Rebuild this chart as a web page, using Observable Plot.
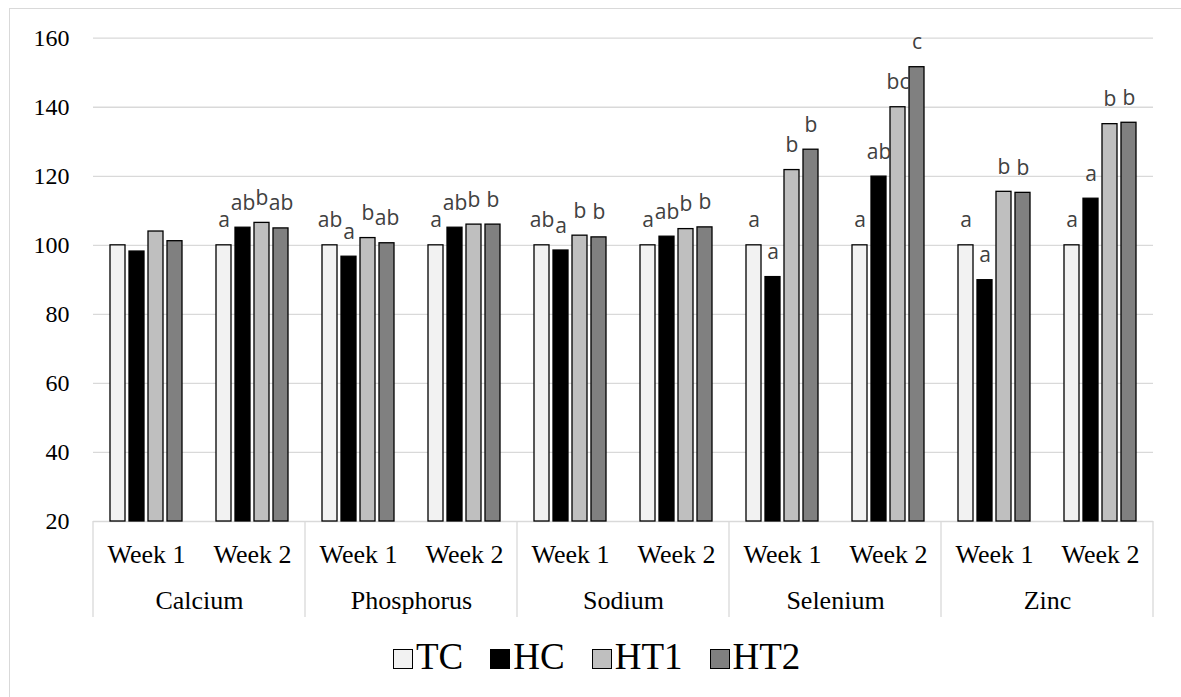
<!DOCTYPE html>
<html>
<head>
<meta charset="utf-8">
<script src="https://cdn.jsdelivr.net/npm/d3@7"></script>
<script src="https://cdn.jsdelivr.net/npm/@observablehq/plot@0.6"></script>
<style>
  html, body { margin: 0; padding: 0; background: #fff; }
  body { width: 1181px; height: 697px; overflow: hidden; position: relative; }
  #border { position: absolute; left: 8.5px; top: 7.5px; width: 1300px; height: 800px; border: 1px solid #d9d9d9; box-sizing: border-box; }
  #chart { position: absolute; left: 0; top: 0; }
  #legend { position: absolute; left: 393px; top: 638px; display: flex; gap: 27px; font-family: "Liberation Serif", "Times New Roman", Tinos, "DejaVu Serif", serif; font-size: 37px; line-height: 37px; color: #000; white-space: nowrap; }
  #legend .sw { display: inline-block; width: 20px; height: 20px; box-sizing: border-box; border: 1.3px solid #000; margin-right: 3px; vertical-align: baseline; }
  #chart svg text.serif { font-family: "Liberation Serif", "Times New Roman", Tinos, "DejaVu Serif", serif; }
</style>
</head>
<body>
<div id="border"></div>
<div id="chart"></div>
<div id="legend"></div>
<script>
const minerals = ["Calcium", "Phosphorus", "Sodium", "Selenium", "Zinc"];
const weeks = ["Week 1", "Week 2"];
const series = ["TC", "HC", "HT1", "HT2"];
const seriesColors = ["#f2f2f2", "#000000", "#bfbfbf", "#808080"];
const yTicks = [20, 40, 60, 80, 100, 120, 140, 160];

// values in group order: Calcium W1, Calcium W2, Phosphorus W1, ... Zinc W2
const TC  = [100, 100, 100, 100, 100, 100, 100, 100, 100, 100];
const HC  = [98.2, 105.1, 96.7, 105.1, 98.5, 102.5, 90.8, 119.9, 89.9, 113.5];
const HT1 = [104.0, 106.5, 102.1, 106.0, 102.8, 104.7, 121.8, 140.0, 115.5, 135.1];
const HT2 = [101.2, 104.9, 100.6, 106.0, 102.3, 105.2, 127.7, 151.6, 115.2, 135.5];

const lettersTC  = ["", "a",  "ab", "a",  "ab", "a",  "a", "a",  "a", "a"];
const lettersHC  = ["", "ab", "a",  "ab", "a",  "ab", "a", "ab", "a", "a"];
const lettersHT1 = ["", "b",  "b",  "b",  "b",  "b",  "b", "bc", "b", "b"];
const lettersHT2 = ["", "ab", "ab", "b",  "b",  "b",  "b", "c",  "b", "b"];

const valuesBySeries = [TC, HC, HT1, HT2];
const lettersBySeries = [lettersTC, lettersHC, lettersHT1, lettersHT2];

const groups = [];
minerals.forEach(m => weeks.forEach(w => groups.push(m + "|" + w)));

const data = [];
groups.forEach((g, i) => {
  series.forEach((s, j) => {
    data.push({group: g, series: s, value: valuesBySeries[j][i], letter: lettersBySeries[j][i]});
  });
});

const serif = "'Liberation Serif', 'Times New Roman', Tinos, 'DejaVu Serif', serif";

const chart = Plot.plot({
  width: 1181,
  height: 625,
  marginLeft: 89,
  marginRight: 23.3,
  marginTop: 37.7,
  marginBottom: 104,
  style: {fontFamily: serif, fontSize: "24px", background: "transparent", overflow: "visible"},
  fx: {domain: groups, padding: 0, axis: null},
  x: {domain: series, paddingInner: 0.23, paddingOuter: 0.855, axis: null},
  y: {domain: [20, 160], axis: null},
  color: {domain: series, range: seriesColors},
  marks: [
    Plot.ruleY(yTicks, {stroke: "#d9d9d9", strokeWidth: 1.3}),
    Plot.barY(data, {fx: "group", x: "series", y1: 20, y2: "value", fill: "series", stroke: "#000", strokeWidth: 1.3}),
    Plot.text(data.filter(d => d.letter), {fx: "group", x: "series", y: "value", text: "letter",
      lineAnchor: "bottom", dy: -18, fill: "#404040", fontFamily: "Open Sans", fontSize: 21}),
    Plot.axisY({ticks: yTicks, tickSize: 0, tickPadding: 24, fontSize: 24, anchor: "left", label: null}),
    Plot.text(groups, {fx: d => d, text: d => d.split("|")[1], frameAnchor: "bottom",
      lineAnchor: "bottom", dy: 41, fontSize: 26, fill: "#000"}),
    Plot.text(minerals, {fx: d => d + "|Week 1", text: d => d, frameAnchor: "bottom-right",
      textAnchor: "middle", lineAnchor: "bottom", dy: 87, fontSize: 26, fill: "#000"})
  ]
});
document.getElementById("chart").appendChild(chart);

// serif face on axis / category text (letters keep their own sans face)
d3.select(chart).selectAll("text")
  .filter(function() { return !this.closest("[fill='#404040']") && this.getAttribute("fill") !== "#404040"; })
  .classed("serif", true);

// category separators below the axis, placed with Plot's own fx / y scales
const fx = chart.scale("fx");
const y = chart.scale("y");
const y0 = y.apply(20);
const edges = minerals.map(m => fx.apply(m + "|Week 1"));
edges.push(fx.apply(groups[groups.length - 1]) + fx.bandwidth);
d3.select(chart).append("g")
  .attr("stroke", "#d9d9d9").attr("stroke-width", 1.3)
  .selectAll("line").data(edges).join("line")
  .attr("x1", d => d).attr("x2", d => d)
  .attr("y1", y0).attr("y2", y0 + 96);

// legend
const legend = d3.select("#legend");
series.forEach((s, i) => {
  const item = legend.append("span");
  item.append("span").attr("class", "sw").style("background", seriesColors[i]);
  item.append("span").text(s);
});
</script>
</body>
</html>
